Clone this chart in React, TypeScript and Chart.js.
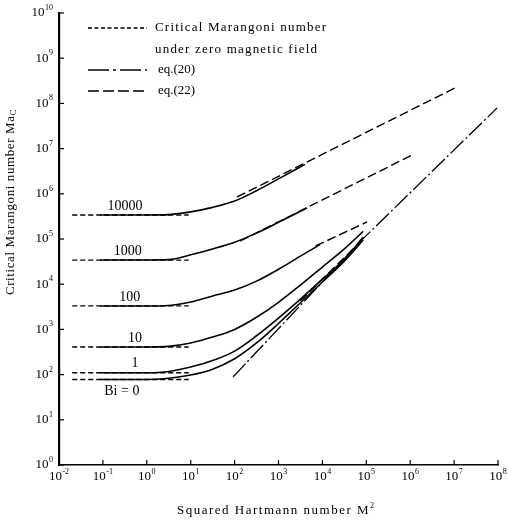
import { useEffect, useRef } from "react";
import { Chart, registerables } from "chart.js";

Chart.register(...registerables);

// ---- axes ----
const xTicks = [1e-2, 1e-1, 1, 1e1, 1e2, 1e3, 1e4, 1e5, 1e6, 1e7, 1e8];
const xTickExp = ["-2", "-1", "0", "1", "2", "3", "4", "5", "6", "7", "8"];
const yTicks = [1, 1e1, 1e2, 1e3, 1e4, 1e5, 1e6, 1e7, 1e8, 1e9, 1e10];
const yTickExp = ["0", "1", "2", "3", "4", "5", "6", "7", "8", "9", "10"];

// ---- curve labels (Biot numbers) ----
const biLabels = ["10000", "1000", "100", "10", "1", "Bi = 0"];
const biLabelAt = [0.32, 0.37, 0.41, 0.54, 0.54, 0.27]; // M² at label centre
const biLabelAbove = [true, true, true, true, true, false];

// ---- critical Marangoni number under zero magnetic field ----
const zeroFieldRange = [0.02, 9];
const zeroFieldMa = [3.4e5, 3.4e4, 3300, 408, 110, 78];

// ---- numerical curves (solid) ----
const curve10000X = [0.086, 1, 3.16, 10, 31.6, 100, 316, 1000, 4000];
const curve10000Y = [3.4e5, 3.4e5, 3.47e5, 3.98e5, 5.01e5, 6.92e5, 1.17e6, 2.14e6, 4.47e6];
const curve1000X = [0.086, 1, 3.16, 10, 31.6, 100, 316, 1000, 4460];
const curve1000Y = [3.43e4, 3.43e4, 3.5e4, 4.47e4, 6.03e4, 8.5e4, 1.35e5, 2.34e5, 4.85e5];
const curve100X = [0.086, 1, 3.16, 10, 31.6, 100, 316, 1000, 3160, 8900];
const curve100Y = [3300, 3300, 3390, 4040, 5500, 7410, 1.17e4, 2.14e4, 4.17e4, 7.6e4];
const curve10X = [0.086, 1, 3.16, 10, 31.6, 100, 316, 1000, 3160, 1e4, 3.16e4, 8.5e4];
const curve10Y = [408, 408, 422, 501, 676, 1000, 1860, 3980, 9550, 2.4e4, 6.03e4, 1.48e5];
const curve1X = [0.086, 1, 3.16, 10, 31.6, 100, 316, 1000, 3160, 1e4, 3.16e4, 8.5e4];
const curve1Y = [110, 110, 117, 147, 204, 331, 724, 1780, 4680, 1.29e4, 3.55e4, 1.1e5];
const curve0X = [0.086, 1, 3.16, 10, 31.6, 100, 316, 1000, 3160, 1e4, 3.16e4, 8.5e4];
const curve0Y = [78, 78, 83, 98, 132, 224, 501, 1350, 3890, 1.12e4, 3.24e4, 9.5e4];

// ---- eq.(20) asymptote (dash-dot) ----
const eq20X = [92, 8.5e4, 9.5e7];
const eq20Y = [88.5, 1.02e5, 7.9e7];

// ---- eq.(22) asymptotes (long dashes) ----
const eq22_10000X = [114, 1.16e7];
const eq22_10000Y = [8.5e5, 2.31e8];
const eq22_1000X = [133, 1.1e6];
const eq22_1000Y = [9.0e4, 7.2e6];
const eq22_100X = [7000, 1.04e5];
const eq22_100Y = [7.0e4, 2.38e5];
const eq22_smallX = [3160, 8.5e4];
const eq22_smallY = [4300, 1.0e5];

const SERIF = '"Liberation Serif", "Times New Roman", "DejaVu Serif", serif';
const DASH_ZERO = [5, 3];
const DASH_22 = [9, 4];
const DASH_20 = [18, 3, 2, 3];

const pts = (xs: number[], ys: number[]) => xs.map((x, i) => ({ x, y: ys[i] }));

const solid = (xs: number[], ys: number[]) => ({
  data: pts(xs, ys),
  borderColor: "#000",
  borderWidth: 1.6,
  pointRadius: 0,
  fill: false,
  cubicInterpolationMode: "monotone" as const,
});
const dashed = (xs: number[], ys: number[], dash: number[], w = 1.3) => ({
  data: pts(xs, ys),
  borderColor: "#000",
  borderWidth: w,
  borderDash: dash,
  pointRadius: 0,
  fill: false,
});

function drawPow(ctx: CanvasRenderingContext2D, exp: string, x: number, y: number, align: "center" | "right") {
  ctx.font = `13px ${SERIF}`;
  const w1 = ctx.measureText("10").width;
  ctx.font = `8px ${SERIF}`;
  const w2 = ctx.measureText(exp).width;
  const total = w1 + w2 + 0.5;
  const start = align === "center" ? x - total / 2 : x - total;
  ctx.textAlign = "left";
  ctx.textBaseline = "middle";
  ctx.font = `13px ${SERIF}`;
  ctx.fillText("10", start, y);
  ctx.font = `8px ${SERIF}`;
  ctx.fillText(exp, start + w1 + 0.5, y - 5);
}

const decor = {
  id: "decor",
  afterDraw(chart: any) {
    const { ctx, chartArea: a, scales } = chart;
    const xs = scales.x;
    const ys = scales.y;
    ctx.save();
    ctx.fillStyle = "#000";
    ctx.strokeStyle = "#000";
    ctx.setLineDash([]);

    // inward tick marks
    ctx.lineWidth = 1.2;
    xTicks.forEach((v) => {
      const p = xs.getPixelForValue(v);
      ctx.beginPath();
      ctx.moveTo(p, a.bottom);
      ctx.lineTo(p, a.bottom - 5);
      ctx.stroke();
    });
    yTicks.forEach((v) => {
      const p = ys.getPixelForValue(v);
      ctx.beginPath();
      ctx.moveTo(a.left, p);
      ctx.lineTo(a.left + 5, p);
      ctx.stroke();
    });

    // tick labels
    xTicks.forEach((v, i) => drawPow(ctx, xTickExp[i], xs.getPixelForValue(v), a.bottom + 12, "center"));
    yTicks.forEach((v, i) => drawPow(ctx, yTickExp[i], a.left - 6, ys.getPixelForValue(v), "right"));

    // curve labels
    ctx.font = `14px ${SERIF}`;
    ctx.textAlign = "center";
    ctx.textBaseline = "middle";
    biLabels.forEach((t, i) => {
      const px = xs.getPixelForValue(biLabelAt[i]);
      const py = ys.getPixelForValue(zeroFieldMa[i]) + (biLabelAbove[i] ? -9 : 12);
      ctx.fillText(t, px, py);
    });

    // legend
    const lx0 = 88, lx1 = 147;
    const legendLine = (yy: number, dash: number[], w: number) => {
      ctx.setLineDash(dash);
      ctx.lineWidth = w;
      ctx.beginPath();
      ctx.moveTo(lx0, yy);
      ctx.lineTo(lx1, yy);
      ctx.stroke();
    };
    legendLine(28, [4, 2.5], 1.3);
    legendLine(70, [21, 4, 3, 4], 1.5);
    legendLine(91, [11, 4], 1.3);
    ctx.setLineDash([]);
    ctx.textAlign = "left";
    ctx.textBaseline = "middle";
    ctx.font = `13px ${SERIF}`;
    (ctx as any).letterSpacing = "1.2px";
    ctx.fillText("Critical Marangoni number", 155, 28);
    ctx.fillText("under zero magnetic field", 155, 50);
    (ctx as any).letterSpacing = "0px";
    ctx.fillText("eq.(20)", 158, 70);
    ctx.fillText("eq.(22)", 158, 91);

    // x title
    ctx.font = `13px ${SERIF}`;
    (ctx as any).letterSpacing = "1.5px";
    const xt = "Squared Hartmann number M";
    const wx = ctx.measureText(xt).width;
    ctx.textAlign = "left";
    ctx.fillText(xt, 177, 511);
    (ctx as any).letterSpacing = "0px";
    ctx.font = `8px ${SERIF}`;
    ctx.fillText("2", 177 + wx, 506);

    // y title (rotated)
    ctx.save();
    ctx.translate(11, 202);
    ctx.rotate(-Math.PI / 2);
    ctx.font = `13px ${SERIF}`;
    (ctx as any).letterSpacing = "0.6px";
    const yt = "Critical Marangoni number Ma";
    const wy = ctx.measureText(yt).width;
    ctx.font = `9px ${SERIF}`;
    const ws = ctx.measureText("C").width;
    const st = -(wy + ws) / 2;
    ctx.font = `13px ${SERIF}`;
    ctx.fillText(yt, st, 0);
    ctx.font = `9px ${SERIF}`;
    ctx.fillText("C", st + wy, 3);
    ctx.restore();

    ctx.restore();
  },
};

export default function App() {
  const ref = useRef<HTMLCanvasElement>(null);
  useEffect(() => {
    document.body.style.margin = "0";
    const zeroSets = zeroFieldMa.map((m) =>
      dashed(zeroFieldRange, [m, m], DASH_ZERO, 1.3)
    );
    const chart = new Chart(ref.current as HTMLCanvasElement, {
      type: "line",
      data: {
        datasets: [
          ...zeroSets,
          solid(curve10000X, curve10000Y),
          solid(curve1000X, curve1000Y),
          solid(curve100X, curve100Y),
          solid(curve10X, curve10Y),
          solid(curve1X, curve1Y),
          solid(curve0X, curve0Y),
          dashed(eq20X, eq20Y, DASH_20, 1.3),
          dashed(eq22_10000X, eq22_10000Y, DASH_22, 1.4),
          dashed(eq22_1000X, eq22_1000Y, DASH_22, 1.4),
          dashed(eq22_100X, eq22_100Y, DASH_22, 1.4),
          dashed(eq22_smallX, eq22_smallY, DASH_22, 1.4),
        ] as any,
      },
      options: {
        responsive: false,
        animation: false,
        devicePixelRatio: 1,
        layout: { padding: { top: 13, right: 10, left: 0, bottom: 0 } },
        plugins: { legend: { display: false }, tooltip: { enabled: false } },
        scales: {
          x: {
            type: "logarithmic",
            min: 1e-2,
            max: 1e8,
            grid: { display: true, drawOnChartArea: false, drawTicks: false },
            border: { display: true, color: "#000", width: 1.5 },
            ticks: { display: false },
            afterFit: (s: any) => {
              s.height = 57;
            },
          },
          y: {
            type: "logarithmic",
            min: 1,
            max: 1e10,
            grid: { display: true, drawOnChartArea: false, drawTicks: false },
            border: { display: true, color: "#000", width: 2.2 },
            ticks: { display: false },
            afterFit: (s: any) => {
              s.width = 59;
            },
          },
        },
      } as any,
      plugins: [decor],
    });
    return () => chart.destroy();
  }, []);
  return (
    <div style={{ width: 508, height: 522, background: "#fff" }}>
      <canvas ref={ref} width={508} height={522} style={{ display: "block" }} />
    </div>
  );
}
